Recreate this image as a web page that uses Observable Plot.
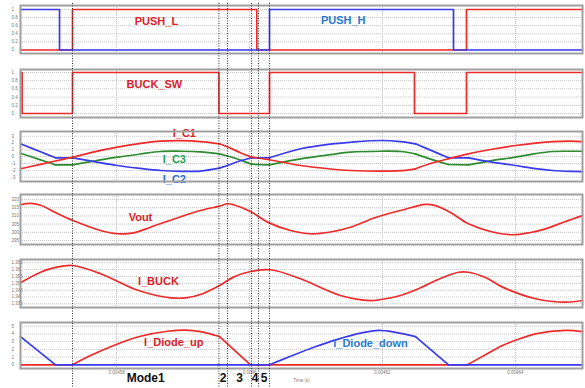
<!DOCTYPE html>
<html><head><meta charset="utf-8">
<script src="https://cdn.jsdelivr.net/npm/d3@7"></script>
<script src="https://cdn.jsdelivr.net/npm/@observablehq/plot@0.6"></script>
<style>
body{margin:0;background:#fff;}
#chart{position:relative;width:585px;height:388px;overflow:hidden;font-family:"Liberation Sans",Arial,sans-serif;}
#chart > svg, #chart > figure{position:absolute;left:0;margin:0;}
</style></head><body><div id="chart"></div>
<script>
// ---- time axis (microseconds) ----
const xTicks = [4580, 4600, 4620, 4640];

// ---- PUSH_L / PUSH_H (gate signals) ----
const tPushL = [4565.56, 4573.38, 4601.10, 4632.63, 4650.08];
const vPushL = [0, 1, 0, 1, 1];
const tPushH = [4565.56, 4571.43, 4603.01, 4630.68, 4650.08];
const vPushH = [1, 0, 1, 0, 0];

// ---- BUCK_SW ----
const tBuck = [4565.56, 4565.80, 4573.38, 4595.40, 4603.01, 4624.81, 4632.63, 4650.08];
const vBuck = [1, 0, 1, 0, 1, 0, 1, 1];

// ---- capacitor currents ----
const tIC = [4565.56, 4568.57, 4570.83, 4573.38, 4576.84, 4580.15, 4583.61, 4586.62, 4589.62, 4592.63,
             4595.49, 4596.69, 4598.65, 4600.30, 4603.01, 4607.67, 4612.18, 4615.19, 4619.70, 4622.71,
             4624.96, 4627.22, 4629.93, 4632.93, 4636.24, 4640.00, 4643.01, 4645.56, 4648.27, 4650.08];
const iC1 = [-1.77, -1.12, -0.63, -0.07, 0.75, 1.39, 1.95, 2.28, 2.35, 2.22,
             1.89, 1.45, 0.58, -0.07, -0.45, -1.29, -1.80, -2.02, -2.12, -2.05,
             -1.77, -1.0, -0.3, 0.42, 1.05, 1.64, 2.0, 2.22, 2.28, 2.22];
const iC2 = [1.89, 0.72, -0.16, -0.16, -0.75, -1.29, -1.72, -2.02, -2.15, -2.1,
             -1.68, -1.29, -0.6, -0.16, -0.16, 1.16, 1.85, 2.12, 2.37, 2.22,
             1.89, 0.96, -0.16, -0.16, -0.75, -1.29, -1.75, -2.02, -2.15, -2.17];
const iC3 = [0.51, -0.46, -1.19, -1.19, -0.6, -0.07, 0.4, 0.76, 0.8, 0.72,
             0.42, 0.1, -0.5, -1.1, -1.19, -0.31, 0.3, 0.66, 0.8, 0.76,
             0.42, -0.35, -1.14, -1.19, -0.6, -0.07, 0.45, 0.76, 0.8, 0.8];
// indices where the waveform has a corner (mode transitions)
const kinksIC1 = [10, 13, 20, 22];
const kinksIC23 = [2, 3, 10, 11, 13, 14, 20, 22, 23];

// ---- Vout ----
const tVout = [4565.56, 4567.07, 4568.57, 4570.83, 4573.38, 4577.59, 4580.15, 4582.56, 4585.11, 4588.87,
               4592.63, 4595.49, 4596.69, 4597.59, 4600.15, 4602.71, 4606.17, 4609.17, 4612.18, 4615.19,
               4618.95, 4622.71, 4626.47, 4627.97, 4630.23, 4632.93, 4636.24, 4639.55, 4642.26, 4644.51,
               4647.52, 4650.08];
const vOut = [316.8, 317.6, 316.5, 312.1, 307.3, 301.1, 299.1, 299.6, 303.1, 308.4,
              313.3, 316.0, 317.4, 316.8, 312.7, 306.2, 301.1, 299.1, 300.2, 303.1,
              309.0, 313.3, 317.0, 316.3, 312.1, 305.2, 300.5, 298.5, 299.9, 302.1,
              306.6, 310.2];

// ---- I_BUCK ----
const tIBuck = [4565.56, 4568.57, 4570.83, 4573.38, 4577.59, 4582.56, 4585.11, 4588.12, 4590.38, 4592.63,
                4595.49, 4597.59, 4600.15, 4603.16, 4607.67, 4613.68, 4618.20, 4620.45, 4622.71, 4625.41,
                4628.72, 4631.43, 4632.93, 4635.49, 4638.05, 4643.01, 4647.52, 4650.08];
const iBuck = [1.3504, 1.3581, 1.3616, 1.3630, 1.3570, 1.3460, 1.3422, 1.3394, 1.3393, 1.3418,
               1.3484, 1.3545, 1.3586, 1.3599, 1.3533, 1.3411, 1.3374, 1.3387, 1.3411, 1.3460,
               1.3535, 1.3581, 1.3581, 1.3542, 1.3472, 1.3387, 1.3362, 1.3374];

// ---- diode currents ----
const tDUp = [4565.56, 4573.38, 4576.09, 4580.15, 4583.61, 4587.67, 4590.38, 4592.63, 4595.49, 4600.15,
              4632.78, 4635.49, 4638.05, 4640.75, 4643.01, 4647.52, 4650.08];
const iDUp = [0, 0, 1.2, 2.7, 3.7, 4.35, 4.5, 4.3, 3.66, 0,
              0, 1.3, 2.5, 3.4, 4.0, 4.45, 4.3];
const kinksDUp = [1, 8, 9, 10];
const tDDown = [4565.56, 4570.83, 4603.01, 4606.17, 4609.77, 4613.23, 4616.69, 4619.40, 4621.96, 4624.96,
                4629.93, 4650.08];
const iDDown = [3.66, 0, 0, 1.1, 2.3, 3.3, 4.1, 4.45, 4.2, 3.66, 0, 0];
const kinksDDown = [1, 2, 9, 10];

// ---- operating-mode boundaries ----
const modeBounds = [4573.38, 4595.40, 4596.69, 4600.30, 4601.35, 4603.01];
const modeNames = ["Mode1", "2", "3", "4", "5"];

// ---- y tick labels per panel ----
const ticksSw = [0, 0.2, 0.4, 0.6, 0.8, 1];
const ticksIC = [-3, -2, -1, 0, 1, 2, 3];
const ticksVout = [295, 300, 305, 310, 315, 320];
const ticksIBuck = [1.335, 1.34, 1.345, 1.35, 1.355, 1.36, 1.365];
const ticksDiode = [0, 1, 2, 3, 4, 5];

// ================= drawing =================
const RED = "#ee2a2a", BLUE = "#3a3aee", GREEN = "#2e8b30";
const xDomain = [4565.56, 4650.08];
const W = 585, ML = 20, MR = 3;
const chart = document.getElementById("chart");
const fmtY = d => String(+d.toFixed(3));
const fmtX = d => String(+(d / 1e6).toFixed(5));

// split a waveform into smooth pieces at its corner points
function pieces(times, values, kinks = []) {
  const cuts = [0, ...kinks, times.length - 1];
  const rows = [];
  for (let k = 0; k < cuts.length - 1; k++)
    for (let i = cuts[k]; i <= cuts[k + 1]; i++) rows.push({t: times[i], v: values[i], z: k});
  return rows;
}
const smooth = (times, values, kinks, stroke) =>
  Plot.line(pieces(times, values, kinks), {x: "t", y: "v", z: "z", curve: "catmull-rom", stroke, strokeWidth: 1.7});

function panel({frameTop, frameBottom, yDomain, ticks, marks, xAxis = false}) {
  const mb = xAxis ? 20 : 1;
  const h = frameBottom - frameTop + 1 + mb;
  const common = [
    Plot.gridY(ticks, {stroke: "#c4c4c4", strokeOpacity: 1, strokeDasharray: "1,1"}),
    Plot.gridX(xTicks, {stroke: "#c4c4c4", strokeOpacity: 1, strokeDasharray: "1,1"}),
    Plot.axisY(ticks, {tickSize: 0, tickPadding: 9, textAnchor: "start", fontSize: 4.5, fill: "#777", tickFormat: fmtY, label: null})
  ];
  if (xAxis) common.push(Plot.axisX(xTicks, {tickSize: 0, tickPadding: 2, fontSize: 4.5, fill: "#777", tickFormat: fmtX, label: null}));
  const svg = Plot.plot({
    width: W, height: h,
    marginLeft: ML, marginRight: MR, marginTop: 1, marginBottom: mb,
    style: {background: "transparent", fontFamily: "Liberation Sans, Arial, sans-serif", overflow: "visible"},
    x: {domain: xDomain, axis: xAxis ? undefined : null},
    y: {domain: yDomain},
    marks: [...common, ...marks, Plot.frame({stroke: "#a0a0a0", strokeWidth: 2})]
  });
  svg.style.position = "absolute";
  svg.style.top = (frameTop - 1) + "px";
  svg.style.left = "0px";
  chart.appendChild(svg);
}

const lab = (t, v, text, fill) => Plot.text([text], {x: () => t, y: () => v, text: d => d, fill, fontSize: 11, fontWeight: "bold"});
const sw = 1.7;

// Panel 1: PUSH_L / PUSH_H
panel({frameTop: 5, frameBottom: 53, yDomain: [-0.086, 1.099], ticks: ticksSw, marks: [
  Plot.line(vPushL, {x: tPushL, y: vPushL, curve: "step-after", stroke: RED, strokeWidth: sw}),
  Plot.line(vPushH, {x: tPushH, y: vPushH, curve: "step-after", stroke: BLUE, strokeWidth: sw}),
  lab(4586.0, 0.70, "PUSH_L", "#e02028"),
  lab(4614.1, 0.73, "PUSH_H", "#2a78cc")
]});

// Panel 2: BUCK_SW
panel({frameTop: 69, frameBottom: 117, yDomain: [-0.098, 1.073], ticks: ticksSw, marks: [
  Plot.line(vBuck, {x: tBuck, y: vBuck, curve: "step-after", stroke: RED, strokeWidth: sw}),
  lab(4585.7, 0.71, "BUCK_SW", "#e02028")
]});

// Panel 3: I_C1, I_C2, I_C3
panel({frameTop: 131, frameBottom: 181, yDomain: [-3.63, 3.69], ticks: ticksIC, marks: [
  smooth(tIC, iC3, kinksIC23, GREEN),
  smooth(tIC, iC2, kinksIC23, BLUE),
  smooth(tIC, iC1, kinksIC1, RED),
  lab(4590.2, 3.4, "I_C1", "#e02028"),
  lab(4588.7, -0.41, "I_C3", "#22a050"),
  lab(4588.7, -3.34, "I_C2", "#2a6ed0")
]});

// Panel 4: Vout
panel({frameTop: 194, frameBottom: 244, yDomain: [292.56, 323.05], ticks: ticksVout, marks: [
  smooth(tVout, vOut, [], RED),
  lab(4583.6, 309.0, "Vout", "#e02028")
]});

// Panel 5: I_BUCK
panel({frameTop: 259, frameBottom: 307, yDomain: [1.3323, 1.3674], ticks: ticksIBuck, marks: [
  smooth(tIBuck, iBuck, [], RED),
  lab(4586.3, 1.3513, "I_BUCK", "#e02028")
]});

// Panel 6: diode currents
panel({frameTop: 322, frameBottom: 368, yDomain: [-0.48, 5.48], ticks: ticksDiode, xAxis: true, marks: [
  smooth(tDUp, iDUp, kinksDUp, RED),
  smooth(tDDown, iDDown, kinksDDown, BLUE),
  lab(4588.6, 2.89, "I_Diode_up", "#e02028"),
  lab(4618.2, 2.76, "I_Diode_down", "#2a7ad0")
]});

// Overlay: mode boundaries and mode labels
const modes = modeNames.map((name, i) => ({name, mid: (modeBounds[i] + modeBounds[i + 1]) / 2}));
const overlay = Plot.plot({
  width: W, height: 388,
  marginLeft: ML, marginRight: MR, marginTop: 3, marginBottom: 0,
  style: {background: "transparent", fontFamily: "Liberation Sans, Arial, sans-serif", overflow: "visible"},
  x: {domain: xDomain, axis: null},
  marks: [
    Plot.ruleX(modeBounds, {stroke: "#333", strokeWidth: 1, strokeDasharray: "1,1.5"}),
    Plot.text(modes, {x: "mid", text: "name", frameAnchor: "bottom", lineAnchor: "middle", dy: -10, fontSize: 12, fontWeight: "bold", fill: "#111"}),
    Plot.text(["Time (s)"], {frameAnchor: "bottom", lineAnchor: "middle", dy: -8, fontSize: 4.5, fill: "#777"})
  ]
});
overlay.style.position = "absolute";
overlay.style.top = "0px";
overlay.style.left = "0px";
overlay.style.pointerEvents = "none";
chart.appendChild(overlay);
</script>
</body></html>
